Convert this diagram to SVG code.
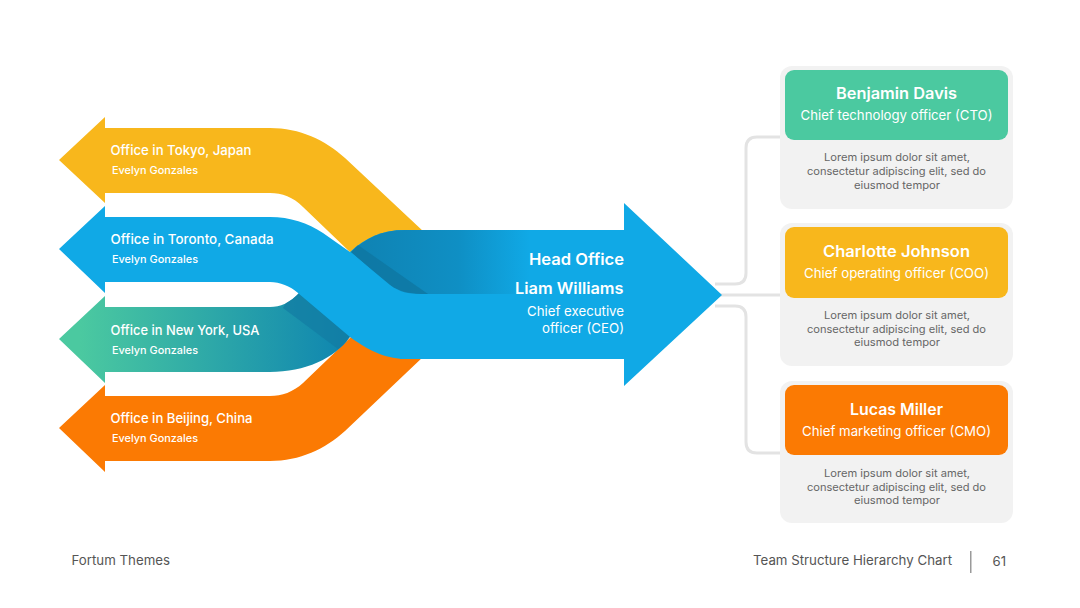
<svg xmlns="http://www.w3.org/2000/svg" width="1080" height="608" viewBox="0 0 1080 608">
<style>
text{font-family:"Inter","Liberation Sans",sans-serif;fill:#fff}
.o{font-size:13.5px;font-weight:500}
.e{font-size:10.5px;font-weight:500}
.h{font-size:16px;font-weight:600}
.c{font-size:13.5px;font-weight:400}
.n{font-size:15.5px;font-weight:600}
.r{font-size:13.5px;font-weight:400}
.l{font-size:10.8px;font-weight:400;fill:#666}
.f{font-size:13px;font-weight:400;fill:#555}
.outer{fill:#f2f2f2}
.conn{fill:none;stroke:#e3e3e3;stroke-width:3}
</style>
<defs>
<linearGradient id="gNY" gradientUnits="userSpaceOnUse" x1="80" y1="0" x2="345" y2="0"><stop offset="0" stop-color="#4bc9a0"/><stop offset="1" stop-color="#0f86b0"/></linearGradient>
<linearGradient id="gHead" gradientUnits="userSpaceOnUse" x1="350" y1="0" x2="530" y2="0"><stop offset="0" stop-color="#0f82b2"/><stop offset="0.6" stop-color="#0f8fc4"/><stop offset="1" stop-color="#10a9e6"/></linearGradient>
<clipPath id="clipNY"><path d="M59,339L105,296V307H270C280,307 290,303 300,292L356,330L349,338C335,358 305,372 270,372H105V383Z"/></clipPath>
</defs>
<g id="connectors">
<path class="conn" d="M720,295H781"/>
<path class="conn" d="M715,284H735Q746,284 746,273V148Q746,137 757,137H781"/>
<path class="conn" d="M715,306H735Q746,306 746,317V442Q746,453 757,453H781"/>
</g>
<g id="office-tokyo">
<path fill="#f8b71c" d="M59,160L105,117V128H270C300,128 325,140 345,158L424,232L352,254L303,207C293,197 282,193 270,193H105V203Z"/>
<text class="o" x="110.5" y="155" textLength="141" lengthAdjust="spacingAndGlyphs">Office in Tokyo, Japan</text>
<text class="e" x="112" y="174" textLength="86" lengthAdjust="spacingAndGlyphs">Evelyn Gonzales</text>
</g>
<g id="office-beijing">
<path fill="#fb7a03" d="M59,428L105,385V396H270C282,396 293,392 303,383L352,336L424,356L345,431C325,449 300,461 270,461H105V472Z"/>
<text class="o" x="110.5" y="423" textLength="142" lengthAdjust="spacingAndGlyphs">Office in Beijing, China</text>
<text class="e" x="112" y="442" textLength="86" lengthAdjust="spacingAndGlyphs">Evelyn Gonzales</text>
</g>
<g id="office-newyork">
<path fill="url(#gNY)" d="M59,339L105,296V307H270C280,307 290,303 300,292L356,330L349,338C335,358 305,372 270,372H105V383Z"/>
<path fill="#137ca3" opacity="0.7" clip-path="url(#clipNY)" d="M283,308L296,285L362,332L338,349Z"/>
<text class="o" x="110.5" y="335" textLength="149" lengthAdjust="spacingAndGlyphs">Office in New York, USA</text>
<text class="e" x="112" y="354" textLength="86" lengthAdjust="spacingAndGlyphs">Evelyn Gonzales</text>
</g>
<g id="head-office">
<path fill="#10a9e6" d="M350,252C365,238 382,230 405,230H624V203L722,295L624,386V359H400V295H350Z"/>
<path fill="url(#gHead)" d="M351,252C365,238 382,230 405,230H530V295H400Z"/>
<path fill="#0f76a0" opacity="0.75" d="M358,245L351,252L390,285C400,292 410,294 428,294Z"/>
</g>
<g id="office-toronto">
<path fill="#10a9e6" d="M59,249L105,206V217H270C290,217 308,223 323,233L350,252L390,285C399,292 409,294 420,294H640V359H407C388,359 372,353 350,337L298,293C290,286 280,282 270,282H105V293Z"/>
<text class="o" x="110.5" y="244" textLength="163" lengthAdjust="spacingAndGlyphs">Office in Toronto, Canada</text>
<text class="e" x="112" y="263" textLength="86" lengthAdjust="spacingAndGlyphs">Evelyn Gonzales</text>
</g>
<g id="head-office-text">
<text class="h" x="529" y="265" textLength="95" lengthAdjust="spacingAndGlyphs">Head Office</text>
<text class="h" x="515" y="294" textLength="108.5" lengthAdjust="spacingAndGlyphs">Liam Williams</text>
<text class="c" x="527" y="316" textLength="97" lengthAdjust="spacingAndGlyphs">Chief executive</text>
<text class="c" x="542" y="333" textLength="82" lengthAdjust="spacingAndGlyphs">officer (CEO)</text>
</g>
<g id="card-cto">
<rect class="outer" x="780" y="66" width="233" height="143" rx="12"/>
<rect x="785" y="70" width="223" height="70" rx="9" fill="#4bc9a0"/>
<text class="n" x="836" y="99" textLength="121" lengthAdjust="spacingAndGlyphs">Benjamin Davis</text>
<text class="r" x="800.5" y="120" textLength="192" lengthAdjust="spacingAndGlyphs">Chief technology officer (CTO)</text>
<text class="l" x="824" y="161" textLength="146" lengthAdjust="spacingAndGlyphs">Lorem ipsum dolor sit amet,</text>
<text class="l" x="807" y="175" textLength="179" lengthAdjust="spacingAndGlyphs">consectetur adipiscing elit, sed do</text>
<text class="l" x="854" y="189" textLength="86" lengthAdjust="spacingAndGlyphs">eiusmod tempor</text>
</g>
<g id="card-coo">
<rect class="outer" x="780" y="223" width="233" height="143" rx="12"/>
<rect x="785" y="227" width="223" height="71" rx="9" fill="#f8b71c"/>
<text class="n" x="823" y="257" textLength="147" lengthAdjust="spacingAndGlyphs">Charlotte Johnson</text>
<text class="r" x="804" y="278" textLength="185" lengthAdjust="spacingAndGlyphs">Chief operating officer (COO)</text>
<text class="l" x="824" y="319" textLength="146" lengthAdjust="spacingAndGlyphs">Lorem ipsum dolor sit amet,</text>
<text class="l" x="807" y="333" textLength="179" lengthAdjust="spacingAndGlyphs">consectetur adipiscing elit, sed do</text>
<text class="l" x="854" y="346" textLength="86" lengthAdjust="spacingAndGlyphs">eiusmod tempor</text>
</g>
<g id="card-cmo">
<rect class="outer" x="780" y="381" width="233" height="142" rx="12"/>
<rect x="785" y="385" width="223" height="70" rx="9" fill="#fb7a03"/>
<text class="n" x="850" y="415" textLength="93" lengthAdjust="spacingAndGlyphs">Lucas Miller</text>
<text class="r" x="802" y="436" textLength="189" lengthAdjust="spacingAndGlyphs">Chief marketing officer (CMO)</text>
<text class="l" x="824" y="477" textLength="146" lengthAdjust="spacingAndGlyphs">Lorem ipsum dolor sit amet,</text>
<text class="l" x="807" y="491" textLength="179" lengthAdjust="spacingAndGlyphs">consectetur adipiscing elit, sed do</text>
<text class="l" x="854" y="504" textLength="86" lengthAdjust="spacingAndGlyphs">eiusmod tempor</text>
</g>
<g id="footer">
<text class="f" x="71.5" y="565" textLength="98.5" lengthAdjust="spacingAndGlyphs">Fortum Themes</text>
<text class="f" x="753" y="565" textLength="199" lengthAdjust="spacingAndGlyphs">Team Structure Hierarchy Chart</text>
<rect x="970" y="551" width="1.5" height="22" fill="#9a9a9a"/>
<text class="f" x="992.5" y="566" textLength="13.5" lengthAdjust="spacingAndGlyphs">61</text>
</g>
</svg>
